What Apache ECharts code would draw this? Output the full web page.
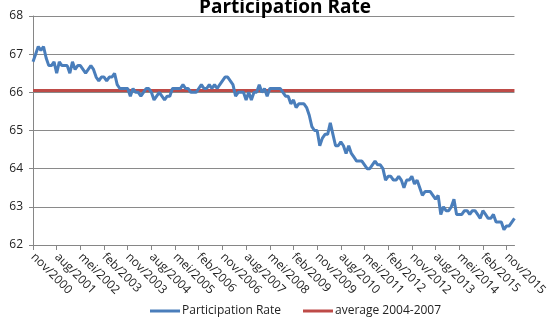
<!DOCTYPE html>
<html lang="nl">
<head>
    <meta charset="UTF-8">
    <title>Participation Rate</title>
    <script src="https://cdn.jsdelivr.net/npm/echarts@6/dist/echarts.min.js"></script>
    <style>
        html, body { margin: 0; padding: 0; background: #fff; }
        #chart { width: 550px; height: 323px; }
    </style>
</head>
<body>
    <div id="chart"></div>
    <script>
        // maandnamen (Nederlands), reeks start nov/2000
        const monthNames = ['jan', 'feb', 'mrt', 'apr', 'mei', 'jun', 'jul', 'aug', 'sep', 'okt', 'nov', 'dec'];
        const startYear = 2000;
        const startMonth = 10; // nov

        const participation = [
            66.8, 67.0, 67.2, 67.1, 67.2, 66.9, 66.7, 66.7, 66.8, 66.5,
            66.8, 66.7, 66.7, 66.7, 66.5, 66.8, 66.6, 66.7, 66.7, 66.6,
            66.5, 66.6, 66.7, 66.6, 66.4, 66.3, 66.4, 66.4, 66.3, 66.4,
            66.4, 66.5, 66.2, 66.1, 66.1, 66.1, 66.1, 65.9, 66.1, 66.0,
            66.0, 65.9, 66.0, 66.1, 66.1, 66.0, 65.8, 65.9, 66.0, 65.9,
            65.8, 65.9, 65.9, 66.1, 66.1, 66.1, 66.1, 66.2, 66.1, 66.1,
            66.0, 66.0, 66.0, 66.1, 66.2, 66.1, 66.1, 66.2, 66.1, 66.2,
            66.1, 66.2, 66.3, 66.4, 66.4, 66.3, 66.2, 65.9, 66.0, 66.0,
            66.0, 65.8, 66.0, 65.8, 66.0, 66.0, 66.2, 66.0, 66.1, 65.9,
            66.1, 66.1, 66.1, 66.1, 66.1, 66.0, 65.9, 65.9, 65.7, 65.8,
            65.6, 65.7, 65.7, 65.7, 65.6, 65.4, 65.1, 65.0, 65.0, 64.6,
            64.8, 64.9, 64.9, 65.2, 64.9, 64.6, 64.6, 64.7, 64.6, 64.4,
            64.6, 64.4, 64.3, 64.2, 64.2, 64.2, 64.1, 64.0, 64.0, 64.1,
            64.2, 64.1, 64.1, 64.0, 63.7, 63.8, 63.8, 63.7, 63.7, 63.8,
            63.7, 63.5, 63.7, 63.7, 63.8, 63.6, 63.7, 63.5, 63.3, 63.4,
            63.4, 63.4, 63.3, 63.2, 63.3, 62.8, 63.0, 62.9, 62.9, 63.0,
            63.2, 62.8, 62.8, 62.8, 62.9, 62.9, 62.8, 62.9, 62.9, 62.8,
            62.7, 62.9, 62.8, 62.7, 62.7, 62.8, 62.6, 62.6, 62.6, 62.4,
            62.5, 62.5, 62.6, 62.7
        ];
        const averageValue = 66.05; // gemiddelde 2004-2007

        const categories = participation.map((v, i) => {
            const m = (startMonth + i) % 12;
            const y = startYear + Math.floor((startMonth + i) / 12);
            return monthNames[m] + '/' + y;
        });
        const average = participation.map(() => averageValue);

        const chart = echarts.init(document.getElementById('chart'));
        chart.setOption({
            animation: false,
            textStyle: { fontFamily: 'Open Sans, Liberation Sans, sans-serif' },
            title: {
                text: 'Participation Rate',
                left: 194,
                top: -7,
                textStyle: { fontSize: 19, fontWeight: 'bold', color: '#000' }
            },
            legend: {
                bottom: 1,
                left: 145,
                itemWidth: 30,
                itemHeight: 3,
                itemGap: 22,
                icon: 'rect',
                textStyle: { fontSize: 12, color: '#222', padding: [0, 0, 0, -3] },
                data: ['Participation Rate', 'average 2004-2007']
            },
            grid: { left: 33, right: 28, top: 16, bottom: 78, containLabel: false },
            xAxis: {
                type: 'category',
                data: categories,
                boundaryGap: false,
                axisLine: { lineStyle: { color: '#868686' } },
                axisTick: { interval: 8, length: 5, lineStyle: { color: '#868686' } },
                axisLabel: { interval: 8, rotate: -45, fontSize: 12, color: '#222', margin: 10 }
            },
            yAxis: {
                type: 'value',
                min: 62,
                max: 68,
                interval: 1,
                axisLine: { show: true, lineStyle: { color: '#868686' } },
                axisTick: { show: true, length: 4, lineStyle: { color: '#868686' } },
                axisLabel: { fontSize: 12, color: '#222', margin: 10 },
                splitLine: { lineStyle: { color: '#8a8a8a' } }
            },
            series: [
                {
                    name: 'Participation Rate',
                    type: 'line',
                    data: participation,
                    symbol: 'none',
                    lineStyle: { color: '#4A7EBB', width: 3 },
                    itemStyle: { color: '#4A7EBB' },
                    z: 3
                },
                {
                    name: 'average 2004-2007',
                    type: 'line',
                    data: average,
                    symbol: 'none',
                    lineStyle: { color: '#BE4B48', width: 3 },
                    itemStyle: { color: '#BE4B48' },
                    z: 2
                }
            ]
        });
    </script>
</body>
</html>
